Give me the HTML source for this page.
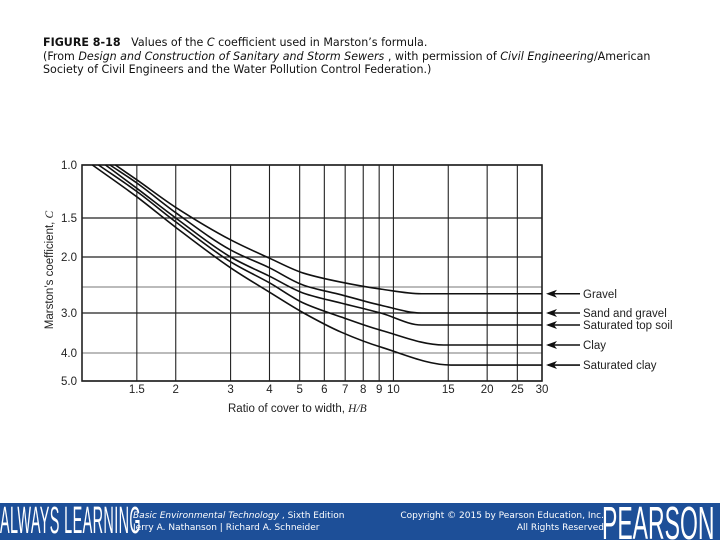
<!DOCTYPE html>
<html><head><meta charset="utf-8"><style>
body{margin:0;width:720px;height:540px;overflow:hidden;background:#fff;font-family:"Liberation Sans",sans-serif;position:relative}
#cap{position:absolute;left:43px;top:36px;font-family:"DejaVu Sans",sans-serif;font-size:11.1px;line-height:13.6px;color:#111}
#foot{position:absolute;left:0;top:503px;width:720px;height:37px;background:#1d4f98;overflow:hidden}
.ft{font-family:"DejaVu Sans",sans-serif;font-size:9px;line-height:11.5px;color:#fff;position:absolute;top:8px}
</style></head><body>
<div id="cap"><b>FIGURE 8-18</b>&nbsp;&nbsp; Values of the <i>C</i> coefficient used in Marston’s formula.<br>(From <i>Design and Construction of Sanitary and Storm Sewers</i> , with permission of <i>Civil Engineering</i>/American<br>Society of Civil Engineers and the Water Pollution Control Federation.)</div>
<svg id="chart" width="720" height="500" style="position:absolute;left:0;top:0"></svg>
<div id="foot">
<div style="position:absolute;left:0;top:-3px;color:#fff;font-size:38px;transform:scaleX(0.38);transform-origin:left top;white-space:nowrap;letter-spacing:1px">ALWAYS LEARNING</div>
<div class="ft" style="left:133px"><i>Basic Environmental Technology</i> , Sixth Edition<br>Jerry A. Nathanson | Richard A. Schneider</div>
<div class="ft" style="right:116px;text-align:right">Copyright © 2015 by Pearson Education, Inc.<br>All Rights Reserved</div>
<div style="position:absolute;left:602px;top:-7px;color:#fff;font-size:46px;transform:scaleX(0.5);transform-origin:left top;white-space:nowrap">PEARSON</div>
</div>
<script>
const xTicks=[1.5,2,3,4,5,6,7,8,9,10,15,20,25,30];
const yTicks=[1,1.5,2,2.5,3,4,5];
const yLabels=["1.0","1.5","2.0","","3.0","4.0","5.0"];
const seriesNames=["Gravel","Sand and gravel","Saturated top soil","Clay","Saturated clay"];
const gravelX=[1.28,1.5,2,3,4,5.15,6.8,9.1,12.3,30];
const gravelC=[1.0,1.14,1.40,1.78,2.02,2.27,2.42,2.54,2.63,2.63];
const sandX=[1.23,1.5,2,3,4,5.15,6.8,9.1,12.3,30];
const sandC=[1.0,1.17,1.45,1.91,2.18,2.47,2.65,2.85,3.0,3.0];
const topsoilX=[1.19,1.5,2,3,4,5.15,6.8,9.1,12.3,30];
const topsoilC=[1.0,1.22,1.5,2.0,2.32,2.62,2.81,3.0,3.3,3.3];
const clayX=[1.13,1.5,2,3,4,5.15,6.8,9.1,14.5,30];
const clayC=[1.0,1.25,1.55,2.08,2.43,2.81,3.1,3.43,3.8,3.8];
const satClayX=[1.08,1.5,2,3,4,5.15,6.8,9.1,15.3,30];
const satClayC=[1.0,1.30,1.62,2.18,2.6,3.0,3.48,3.85,4.43,4.43];
const seriesX=[gravelX,sandX,topsoilX,clayX,satClayX];
const seriesC=[gravelC,sandC,topsoilC,clayC,satClayC];
const L=82,R=542,T=165,B=381;
const yPix=[165,218,257,287,313,353,381];
function xs(v){return L+Math.log(v)*(R-L)/Math.log(30);}
function ys(c){for(let i=0;i<yTicks.length-1;i++){if(c<=yTicks[i+1]){return yPix[i]+(c-yTicks[i])/(yTicks[i+1]-yTicks[i])*(yPix[i+1]-yPix[i]);}}return B+(c-5)*28;}
const svg=document.getElementById('chart');const NS="http://www.w3.org/2000/svg";
function mk(t,a,p){const e=document.createElementNS(NS,t);for(const k in a)e.setAttribute(k,a[k]);(p||svg).appendChild(e);return e;}
yTicks.forEach((c,i)=>{const l=mk('line',{x1:L,x2:R,y1:ys(c),y2:ys(c),stroke:(i==3||i==5)?'#777':'#222','stroke-width':(i==3||i==5)?1:1.3});

if(yLabels[i]){const t=mk('text',{x:77,y:ys(c)+4,'text-anchor':'end','font-size':11.5,fill:'#222'});t.textContent=yLabels[i];
}});
xTicks.forEach(v=>{const l=mk('line',{x1:xs(v),x2:xs(v),y1:T,y2:B,stroke:'#222','stroke-width':1.1});

const t=mk('text',{x:xs(v),y:393,'text-anchor':'middle','font-size':11.5,fill:'#222'});t.textContent=String(v);
});
const fr=mk('rect',{x:L,y:T,width:R-L,height:B-T,fill:'none',stroke:'#222','stroke-width':1.6});

function path(pts){const n=pts.length,d=[],m=[];
for(let i=0;i<n-1;i++)d.push((pts[i+1][1]-pts[i][1])/(pts[i+1][0]-pts[i][0]));
for(let i=0;i<n;i++){if(i==0)m.push(d[0]);else if(i==n-1)m.push(d[n-2]);else if(d[i-1]*d[i]<=0)m.push(0);else m.push(2/(1/d[i-1]+1/d[i]));}
let s='M'+pts[0][0]+','+pts[0][1];
for(let i=0;i<n-1;i++){const h=(pts[i+1][0]-pts[i][0])/3;
s+=' C'+(pts[i][0]+h)+','+(pts[i][1]+m[i]*h)+' '+(pts[i+1][0]-h)+','+(pts[i+1][1]-m[i+1]*h)+' '+pts[i+1][0]+','+pts[i+1][1];}return s;}
seriesNames.forEach((n,s)=>{const pts=seriesX[s].map((x,i)=>[xs(x),ys(seriesC[s][i])]);
const p=mk('path',{d:path(pts),fill:'none',stroke:'#111','stroke-width':1.6});

const yy=ys(seriesC[s][seriesC[s].length-1]);
const a=mk('line',{x1:548,x2:580,y1:yy,y2:yy,stroke:'#111','stroke-width':1.6});

const h=mk('path',{d:`M546,${yy} L557,${yy-4} L554,${yy} L557,${yy+4}Z`,fill:'#111'});

const t=mk('text',{x:583,y:yy+4,'font-size':11.5,fill:'#222'});t.textContent=n;
});
const yt=mk('text',{x:0,y:0,transform:'translate(53,270) rotate(-90)','text-anchor':'middle','font-size':11.5,fill:'#222'});
yt.innerHTML='Marston’s coefficient, <tspan font-family="Liberation Serif" font-style="italic">C</tspan>';

const xt=mk('text',{x:228,y:412,'font-size':11.5,fill:'#222'});
xt.innerHTML='Ratio of cover to width, <tspan font-family="Liberation Serif" font-style="italic">H/B</tspan>';

</script>
</body></html>
